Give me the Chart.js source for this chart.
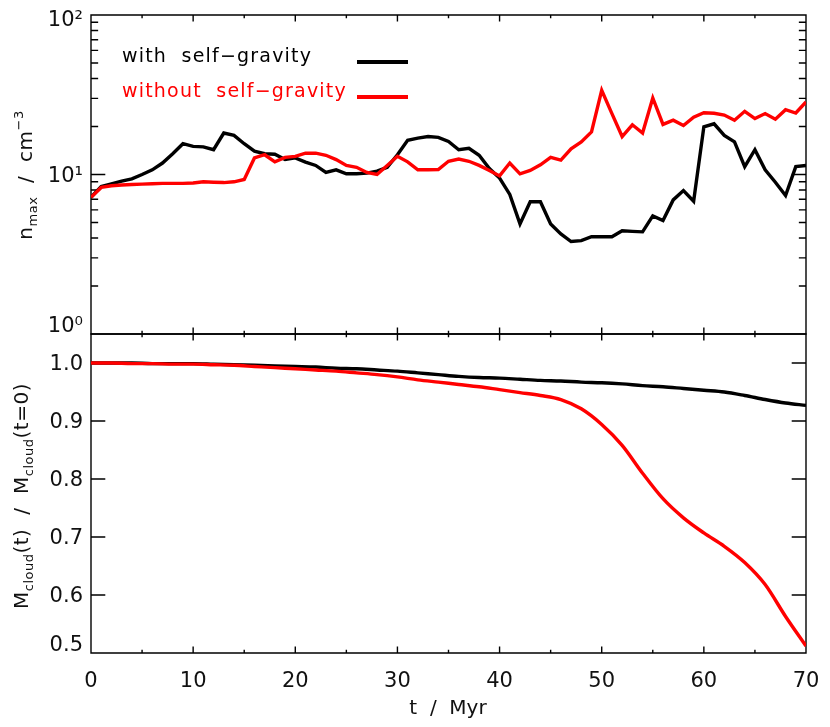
<!DOCTYPE html>
<html lang="en">
<head>
<meta charset="UTF-8" />
<title>n_max and cloud mass vs time</title>
<script src="https://cdn.jsdelivr.net/npm/chart.js"></script>
<style>
  body { margin: 0; background: #fff; }
  #wrap { position: relative; width: 830px; height: 727px; font-family: "DejaVu Sans", sans-serif; color: #111; }
  canvas { position: absolute; left: 0; }
  #topCanvas { top: 0; }
  #botCanvas { top: 320px; }
  .title { position: absolute; white-space: pre; font-size: 20px; line-height: 1; }
  .ytitle { transform: translate(-50%, -50%) rotate(-90deg); letter-spacing: 0.5px; }
  .xtitle { transform: translate(-50%, -50%); }
  .title sub, .title sup { font-size: 13px; }
  .title sub { vertical-align: -5px; }
  .title sup { vertical-align: 9px; }
</style>
</head>
<body>
<div id="wrap">
  <canvas id="topCanvas" width="830" height="350"></canvas>
  <canvas id="botCanvas" width="830" height="407"></canvas>
  <div class="title ytitle" style="left:25px; top:175px;">n<sub>max</sub>  /  cm<sup>−3</sup></div>
  <div class="title ytitle" style="left:23px; top:496px;">M<sub>cloud</sub>(t)  /  M<sub>cloud</sub>(t=0)</div>
  <div class="title xtitle" style="left:448px; top:707px;">t  /  Myr</div>
</div>
<script>
  // time axis (Myr)
  const tTop = [0,1,2,3,4,5,6,7,8,9,10,11,12,13,14,15,16,17,18,19,20,21,22,23,24,25,26,27,28,29,30,
    31,32,33,34,35,36,37,38,39,40,41,42,43,44,45,46,47,48,49,50,51,52,53,54,55,56,57,58,59,60,
    61,62,63,64,65,66,67,68,69,70];

  // n_max / cm^-3
  const nSelfGrav = [7.2,8.4,8.74,9.1,9.4,10.0,10.7,11.8,13.5,15.6,15.0,14.9,14.3,18.2,17.6,15.6,14.0,13.5,13.4,12.4,12.7,
    11.95,11.4,10.3,10.7,10.1,10.1,10.2,10.5,11.1,13.3,16.4,16.9,17.3,17.1,16.1,14.3,14.6,13.2,10.9,9.5,
    7.5,4.9,6.75,6.75,4.9,4.24,3.8,3.85,4.07,4.07,4.07,4.44,4.4,4.37,5.5,5.14,6.93,7.93,6.8,19.9,
    20.8,17.6,16.0,11.2,14.3,10.7,8.95,7.38,11.2,11.4];
  const nNoSelfGrav = [7.2,8.3,8.5,8.6,8.65,8.7,8.75,8.8,8.8,8.8,8.85,9.0,8.95,8.9,9.0,9.3,12.7,13.3,12.0,12.8,13.0,
    13.6,13.6,13.2,12.4,11.4,11.1,10.3,10.0,11.4,13.0,12.0,10.7,10.7,10.75,12.1,12.5,12.1,11.4,10.6,9.8,
    11.8,10.1,10.6,11.5,12.8,12.3,14.5,16.0,18.5,33.7,24.1,17.3,20.5,18.2,30.2,20.6,21.9,20.3,22.9,24.4,
    24.2,23.6,21.9,24.9,22.4,24.1,22.2,25.5,24.3,28.5];

  // M_cloud(t) / M_cloud(t=0)
  const tMass = [0,2,4,6,8,10,12,14,16,18,20,22,24,26,28,30,32,34,36,38,40,42,44,46,48,50,52,54,56,58,60,62,64,66,68,70];
  const massSelfGrav = [1.000,1.000,1.000,0.999,0.999,0.999,0.998,0.997,0.996,0.995,0.994,0.993,0.991,0.990,0.988,0.986,
    0.983,0.980,0.977,0.975,0.974,0.972,0.970,0.969,0.967,0.966,0.964,0.961,0.959,0.956,0.953,0.950,0.944,0.937,0.931,0.927];
  const massNoSelfGrav = [1.000,1.000,0.999,0.999,0.998,0.998,0.997,0.996,0.994,0.992,0.990,0.988,0.986,0.983,0.980,0.976,
    0.971,0.967,0.963,0.959,0.954,0.949,0.944,0.937,0.921,0.894,0.858,0.810,0.766,0.733,0.707,0.684,0.656,0.618,0.563,0.512];

  // ticks
  const xMajorTicks = [0,10,20,30,40,50,60,70];
  const xMinorTicks = [5,15,25,35,45,55,65];
  const nMajorTicks = [1,10,100];
  const nMinorTicks = [2,3,4,5,6,7,8,9,20,30,40,50,60,70,80,90];
  const nTickLabels = ['10\u2070', '10\u00b9', '10\u00b2'];
  const massTicks = [0.5,0.6,0.7,0.8,0.9,1.0];
  const massTickLabels = ['0.5','0.6','0.7','0.8','0.9','1.0'];

  const legendLabels = ['with  self\u2212gravity', 'without  self\u2212gravity'];
  const colSelf = '#000000';
  const colNoSelf = '#ff0000';

  const tickFont = { family: '"DejaVu Sans", sans-serif', size: 21 };

  // IDL-style box with inward ticks on all sides, plus y tick labels kept inside the panel
  const frameTicks = {
    id: 'frameTicks',
    beforeDatasetsDraw(chart, args, opts) {
      const { ctx, chartArea: a, scales } = chart;
      const xs = scales.x, ys = scales.y;
      const xLen = 0.02 * (a.bottom - a.top);
      const yLen = 0.02 * (a.right - a.left);
      ctx.save();
      ctx.strokeStyle = '#000';
      ctx.lineWidth = 1.4;
      ctx.beginPath();
      const xt = (v, len) => {
        const p = xs.getPixelForValue(v);
        ctx.moveTo(p, a.top); ctx.lineTo(p, a.top + len);
        ctx.moveTo(p, a.bottom); ctx.lineTo(p, a.bottom - len);
      };
      const yt = (v, len) => {
        const p = ys.getPixelForValue(v);
        ctx.moveTo(a.left, p); ctx.lineTo(a.left + len, p);
        ctx.moveTo(a.right, p); ctx.lineTo(a.right - len, p);
      };
      xMajorTicks.forEach(v => xt(v, xLen));
      xMinorTicks.forEach(v => xt(v, xLen / 2));
      opts.major.forEach(v => yt(v, yLen));
      opts.minor.forEach(v => yt(v, yLen / 2));
      ctx.rect(a.left, a.top, a.right - a.left, a.bottom - a.top);
      ctx.stroke();

      ctx.fillStyle = '#111';
      ctx.font = tickFont.size + 'px ' + tickFont.family;
      ctx.textAlign = 'right';
      ctx.textBaseline = 'middle';
      opts.major.forEach((v, i) => {
        let p = ys.getPixelForValue(v) + 2;
        if (p - a.top < 8) p = a.top + 6;
        if (a.bottom - p < 8) p = a.bottom - 7;
        ctx.fillText(opts.labels[i], a.left - 8, p);
      });
      ctx.restore();
    }
  };

  const textLegend = {
    id: 'textLegend',
    afterDatasetsDraw(chart) {
      const { ctx, chartArea: a } = chart;
      const cols = [colSelf, colNoSelf];
      ctx.save();
      ctx.font = '19px "DejaVu Sans", sans-serif';
      ctx.letterSpacing = '1.2px';
      ctx.textBaseline = 'middle';
      legendLabels.forEach((txt, i) => {
        const y = a.top + 42 + i * 35;
        ctx.fillStyle = cols[i];
        ctx.fillText(txt, a.left + 31, y);
        ctx.strokeStyle = cols[i];
        ctx.lineWidth = 3.8;
        ctx.beginPath();
        ctx.moveTo(a.left + 266, y + 5);
        ctx.lineTo(a.left + 317, y + 5);
        ctx.stroke();
      });
      ctx.restore();
    }
  };

  function xScale(showLabels) {
    return {
      type: 'linear', min: 0, max: 70,
      display: showLabels,
      grid: { display: false, drawTicks: false },
      border: { display: false },
      afterBuildTicks: s => { s.ticks = xMajorTicks.map(v => ({ value: v })); },
      afterFit: s => {
        if (showLabels) s.height = 74;
        s.paddingLeft = 0;
        s.paddingRight = 0;
      },
      ticks: { font: tickFont, color: '#111', padding: 16, maxRotation: 0, autoSkip: false },
      title: { display: false }
    };
  }

  function yFit(s) {
    s.width = 91;
    s.paddingTop = 0;
    s.paddingBottom = 0;
  }

  new Chart(document.getElementById('topCanvas'), {
    type: 'line',
    data: {
      datasets: [
        { label: 'with self-gravity', data: tTop.map((t, i) => ({ x: t, y: nSelfGrav[i] })),
          borderColor: colSelf, borderWidth: 3.4, pointRadius: 0, tension: 0, order: 1 },
        { label: 'without self-gravity', data: tTop.map((t, i) => ({ x: t, y: nNoSelfGrav[i] })),
          borderColor: colNoSelf, borderWidth: 3.4, pointRadius: 0, tension: 0, order: 0 }
      ]
    },
    options: {
      responsive: false,
      animation: false,
      layout: { padding: { left: 0, right: 24, top: 15, bottom: 16 } },
      plugins: {
        legend: { display: false }, tooltip: { enabled: false },
        frameTicks: { major: nMajorTicks, minor: nMinorTicks, labels: nTickLabels }
      },
      scales: {
        x: xScale(false),
        y: {
          type: 'logarithmic', min: 1, max: 100,
          grid: { display: false, drawTicks: false },
          border: { display: false },
          afterBuildTicks: s => { s.ticks = nMajorTicks.map(v => ({ value: v })); },
          afterFit: yFit,
          ticks: { display: false }
        }
      }
    },
    plugins: [frameTicks, textLegend]
  });

  new Chart(document.getElementById('botCanvas'), {
    type: 'line',
    data: {
      datasets: [
        { label: 'with self-gravity', data: tMass.map((t, i) => ({ x: t, y: massSelfGrav[i] })),
          borderColor: colSelf, borderWidth: 3.4, pointRadius: 0, cubicInterpolationMode: 'monotone', order: 1 },
        { label: 'without self-gravity', data: tMass.map((t, i) => ({ x: t, y: massNoSelfGrav[i] })),
          borderColor: colNoSelf, borderWidth: 3.4, pointRadius: 0, cubicInterpolationMode: 'monotone', order: 0 }
      ]
    },
    options: {
      responsive: false,
      animation: false,
      layout: { padding: { left: 0, right: 24, top: 14, bottom: 0 } },
      plugins: {
        legend: { display: false }, tooltip: { enabled: false },
        frameTicks: { major: massTicks, minor: [], labels: massTickLabels }
      },
      scales: {
        x: xScale(true),
        y: {
          type: 'linear', min: 0.5, max: 1.05,
          grid: { display: false, drawTicks: false },
          border: { display: false },
          afterBuildTicks: s => { s.ticks = massTicks.map(v => ({ value: v })); },
          afterFit: yFit,
          ticks: { display: false }
        }
      }
    },
    plugins: [frameTicks]
  });
</script>
</body>
</html>
